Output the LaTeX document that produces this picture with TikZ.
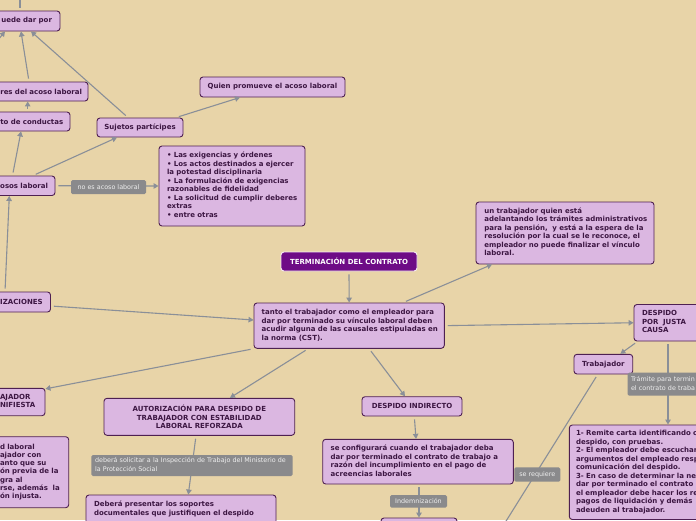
\documentclass[tikz,border=0pt]{standalone}
\usepackage{fontspec}
\setmainfont{DejaVu Sans}
\usetikzlibrary{arrows.meta}
\definecolor{bgc}{RGB}{232,212,168}
\definecolor{nf}{RGB}{219,183,225}
\definecolor{bd}{RGB}{78,32,82}
\definecolor{tx}{RGB}{60,22,66}
\definecolor{tf}{RGB}{110,12,134}
\definecolor{tb}{RGB}{245,235,245}
\definecolor{cg}{RGB}{138,143,152}
\definecolor{lg}{RGB}{138,138,140}
\definecolor{lt}{RGB}{238,238,238}
\newcommand\nfont{\fontsize{7}{8.5}\selectfont\bfseries}
\newcommand\lfont{\fontsize{6.4}{8.6}\selectfont}
\newcommand\lefttab[1]{\begin{tabular}{@{}l@{}}#1\end{tabular}}
\tikzset{
  box/.style={draw=bd, fill=nf, rounded corners=3pt, line width=0.9pt, text=tx, font=\nfont, inner sep=0pt},
  titlebox/.style={draw=tb, fill=tf, rounded corners=3pt, line width=0.9pt, text=white, font=\nfont, inner sep=0pt},
  lbl/.style={fill=lg, text=lt, font=\lfont, inner sep=0pt, rounded corners=1.5pt},
  conn/.style={draw=cg, line width=1.1pt, shorten <=3pt},
  arr/.style={conn, -{Triangle[length=5pt,width=5.5pt]}},
}
\begin{document}
\begin{tikzpicture}[x=1pt, y=-1pt]
\useasboundingbox (0,0) rectangle (696,520);
\fill[bgc] (0,0) rectangle (696,520);
\clip (0,0) rectangle (696,520);

% left column (cut by the frame)
\node[box, minimum width=90pt, minimum height=20pt, text width=74pt, align=right] (A) at (15,21) {\mbox{uede dar por}};
\node[box, minimum width=118pt, minimum height=19pt, text width=106pt, align=right] (B) at (29,91.5) {\mbox{res del acoso laboral}};
\node[box, minimum width=100pt, minimum height=19pt, text width=86.4pt, align=right] (C) at (20,121.5) {\mbox{to de conductas}};
\node[box, minimum width=85pt, minimum height=19.5pt, text width=71pt, align=right] (D) at (12.5,185.75) {\mbox{osos laboral}};
\node[box, minimum width=80.5pt, minimum height=20pt, text width=64.9pt, align=right] (E) at (10.25,302) {\mbox{IZACIONES}};
\node[box, minimum width=53pt, minimum height=27.4pt, text width=37pt, align=left] (F) at (18.5,402) {\lefttab{AJADOR\\NIFIESTA}};
\node[box, minimum width=76.7pt, minimum height=71pt, text width=60.7pt, align=left] (G) at (30.35,472.2)
  {\fontsize{7}{8.2}\selectfont\bfseries\lefttab{d laboral\\ajador con\\anto que su\\ón previa de la\\gra al\\rse, además\ \ la\\ón injusta.}};

% upper middle
\node[box, minimum width=86pt, minimum height=19pt] (H) at (140,127.5) {Sujetos partícipes};
\node[box, minimum width=145pt, minimum height=20pt] (I) at (272.5,87) {Quien promueve el acoso laboral};
\node[box, minimum width=146pt, minimum height=80pt, text width=130pt, align=left] (J) at (232,186)
  {\lefttab{• Las exigencias y órdenes\\• Los actos destinados a ejercer\\la potestad disciplinaria\\• La formulación de exigencias\\razonables de fidelidad\\• La solicitud de cumplir deberes\\extras\\• entre otras}};

% centre
\node[titlebox, minimum width=136pt, minimum height=19pt] (K) at (349,261.5) {TERMINACIÓN DEL CONTRATO};
\node[box, minimum width=190.3pt, minimum height=45.3pt, text width=174.9pt, align=left] (L) at (349.15,325.65)
  {\lefttab{tanto el trabajador como el empleador para\\dar por terminado su vínculo laboral deben\\acudir alguna de las causales estipuladas en\\la norma (CST).}};
\node[box, minimum width=178pt, minimum height=62pt, text width=161.4pt, align=left] (M) at (565,233)
  {\lefttab{un trabajador quien está\\adelantando los trámites administrativos\\para la pensión,\ \ y está a la espera de la\\resolución por la cual se le reconoce, el\\empleador no puede finalizar el vínculo\\laboral.}};

% right
\node[box, minimum width=96pt, minimum height=36.5pt, text width=80pt, align=left] (N) at (682,322.75) {\lefttab{DESPIDO\\POR\ \ JUSTA\\CAUSA}};
\node[box, minimum width=58.7pt, minimum height=19.7pt] (O) at (603.35,364.15) {Trabajador};
\node[box, minimum width=190.7pt, minimum height=94.5pt, text width=177.3pt, align=left] (P) at (664.65,472.25)
  {\lefttab{1- Remite carta identificando c\\despido, con pruebas.\\2- El empleador debe escuchar\\argumentos del empleado resp\\comunicación del despido.\\3- En caso de determinar la ne\\dar por terminado el contrato\\el empleador debe hacer los re\\pagos de liquidación y demás\\adeuden al trabajador.}};

% lower middle
\node[box, minimum width=100pt, minimum height=19.3pt] (R) at (412,406.35) {DESPIDO INDIRECTO};
\node[box, minimum width=190.6pt, minimum height=44.7pt, text width=174.6pt, align=left] (S) at (418,461.65)
  {\lefttab{se configurará cuando el trabajador deba\\dar por terminado el contrato de trabajo a\\razón del incumplimiento en el pago de\\acreencias laborales}};
\node[box, minimum width=76pt, minimum height=22pt] (U) at (419,529) {};
\node[box, minimum width=190.7pt, minimum height=37pt, align=center] (W) at (199.35,416.8)
  {AUTORIZACIÓN PARA DESPIDO DE\\TRABAJADOR CON ESTABILIDAD\\LABORAL REFORZADA};
\node[box, minimum width=190pt, minimum height=29pt, text width=174pt, align=left] (Y) at (181,509.5)
  {\lefttab{Deberá presentar los soportes\\documentales que justifiquen el despido}};

% free ends
\coordinate (cup) at (20,-15);
\coordinate (cleft) at (-12,52);
\coordinate (creq) at (498.6,533);

% connectors
\draw[conn] (A.north -| cup) -- (cup);
\draw[arr] (cleft) -- ([xshift=-10pt]A.south);
\draw[arr] (B.north) -- ([xshift=6pt]A.south);
\draw[arr] ([xshift=7.7pt]C.north) -- ([xshift=-1.3pt]B.south);
\draw[arr] (D.north) -- ([xshift=1pt]C.south);
\draw[arr] ([xshift=20.5pt]D.north) -- ([xshift=-23pt]H.south);
\draw[arr] (D.east) -- (J.west);
\draw[arr] ([xshift=-5.25pt]E.north) -- ([xshift=-3.2pt]D.south);
\draw[arr] ([xshift=-12pt]H.north) -- ([xshift=16pt]A.south);
\draw[arr] ([xshift=36pt]H.north) -- ([xshift=-32.5pt]I.south);
\draw[arr] (K.south) -- (L.north);
\draw[arr] ([xshift=54pt]L.north) -- ([xshift=-73pt]M.south);
\draw[arr] ([yshift=-4pt]E.east) -- ([yshift=5.65pt]L.west);
\draw[arr] (L.east) -- (N.west);
\draw[arr] (L.south west) -- ([yshift=-1pt]F.north east);
\draw[arr] ([xshift=-41pt]L.south) -- ([xshift=30.65pt]W.north);
\draw[arr] ([xshift=20pt]L.south) -- ([xshift=-7pt]R.north);
\draw[arr] ([xshift=4pt]N.south west) -- ([xshift=17pt]O.north);
\draw[arr] ([xshift=-14pt]N.south) -- ([xshift=3.35pt]P.north);
\draw[conn] ([xshift=-5.65pt]O.south) -- (creq);
\draw[arr] ([xshift=2.3pt]R.south) -- ([xshift=-2pt]S.north);
\draw[arr] ([xshift=1pt]S.south) -- (U.north);
\draw[arr] ([xshift=-3.35pt]W.south) -- ([xshift=7.3pt]Y.north);

% connector labels
\node[lbl, minimum width=75pt, minimum height=14pt] (l1) at (108.5,187) {no es acoso laboral};
\node[lbl, minimum width=92.3pt, minimum height=23pt, text width=85.7pt, align=left] (l2) at (673.85,384.2) {\lefttab{Trámite para termin\\el contrato de traba}};
\node[lbl, minimum width=57pt, minimum height=12.7pt] (l3) at (418.5,501.35) {Indemnización};
\node[lbl, minimum width=46pt, minimum height=14.4pt] (l4) at (537.3,474.5) {se requiere};
\node[lbl, minimum width=201.4pt, minimum height=21pt, text width=194pt, align=left] (l5) at (192,465.5) {\lefttab{deberá solicitar a la Inspección de Trabajo del Ministerio de\\la Protección Social}};
\end{tikzpicture}
\end{document}
